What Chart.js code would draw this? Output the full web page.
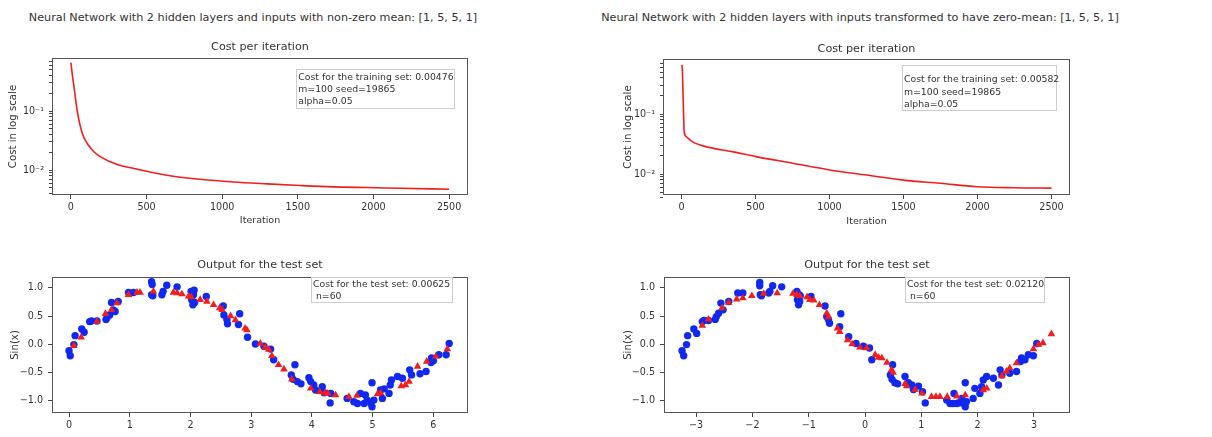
<!DOCTYPE html>
<html><head><meta charset="utf-8">
<script src="https://cdn.jsdelivr.net/npm/chart.js@4.4.0/dist/chart.umd.min.js"></script>
<style>
html,body{margin:0;padding:0;background:#fff;width:1212px;height:437px;overflow:hidden;font-family:"DejaVu Sans",sans-serif;color:#333}
.panel{position:absolute}
.panel canvas{display:block}
.suptitle{position:absolute;font-size:11.2px;line-height:13px;white-space:nowrap;transform:translate(-50%,-50%)}
.note{position:absolute;border:1px solid #ccc;background:rgba(255,255,255,0.85);font-size:9.3px;white-space:pre;box-sizing:border-box;z-index:2}
</style></head><body>
<div class="suptitle" style="left:253px;top:17px">Neural Network with 2 hidden layers and inputs with non-zero mean: [1, 5, 5, 1]</div>
<div class="suptitle" style="left:860px;top:17px">Neural Network with 2 hidden layers with inputs transformed to have zero-mean: [1, 5, 5, 1]</div>
<div class="panel" id="pA"></div>
<div class="panel" id="pB"></div>
<div class="panel" id="pC"></div>
<div class="panel" id="pD"></div>
<div class="note" style="left:296px;top:69px;width:159px;height:40px;line-height:12.3px;padding:0.6px 0 0 1.3px">Cost for the training set: 0.00476
m=100 seed=19865
alpha=0.05</div>
<div class="note" style="left:902px;top:65px;width:155px;height:46px;line-height:12.5px;padding:7.2px 0 0 1px">Cost for the training set: 0.00582
m=100 seed=19865
alpha=0.05</div>
<div class="note" style="left:311px;top:277px;width:142px;height:26px;line-height:11.3px;padding:0.3px 0 0 1px">Cost for the test set: 0.00625
 n=60</div>
<div class="note" style="left:905px;top:277px;width:140px;height:26px;line-height:11.7px;padding:0.4px 0 0 1px">Cost for the test set: 0.02120
 n=60</div>
<script>
// ---- data ----
const iterLeft  = [0, 10, 20, 42, 75, 108, 152, 196, 306, 416, 635, 855, 1075, 1295, 1515, 1735, 1955, 2175, 2500];
const costLeft  = [0.66, 0.40, 0.26, 0.10, 0.042, 0.0283, 0.0205, 0.0168, 0.0125, 0.0107, 0.0082, 0.0070, 0.0063, 0.00586, 0.0055, 0.00522, 0.00508, 0.00495, 0.00476];
const iterRight = [0, 5, 9, 14, 18, 32, 72, 163, 344, 503, 752, 1000, 1250, 1499, 1748, 1997, 2246, 2500];
const costRight = [0.656, 0.60, 0.29, 0.10, 0.051, 0.042, 0.0346, 0.0286, 0.0236, 0.0195, 0.0151, 0.0117, 0.0096, 0.0079, 0.0070, 0.00615, 0.0059, 0.00582];

const dataXLeft = [0.00,0.02,0.08,0.10,0.21,0.25,0.34,0.37,0.46,0.61,0.63,0.67,0.70,0.73,0.76,0.81,0.98,1.06,1.36,1.37,1.36,1.38,1.53,1.55,1.61,1.78,2.01,2.02,2.04,2.05,2.06,2.07,2.26,2.54,2.55,2.60,2.61,2.79,2.81,2.94,3.07,3.21,3.32,3.37,3.66,3.69,3.72,3.76,3.82,3.95,3.98,4.03,4.06,4.17,4.20,4.30,4.31,4.58,4.69,4.75,4.80,4.86,4.88,4.91,4.97,4.99,4.99,5.02,5.13,5.16,5.19,5.27,5.29,5.31,5.41,5.49,5.61,5.64,5.78,5.88,5.96,5.97,6.00,6.09,6.21,6.26];
const dataYLeft = [-0.12,-0.21,-0.01,0.15,0.27,0.21,0.40,0.41,0.41,0.44,0.48,0.52,0.74,0.61,0.58,0.76,0.92,0.92,1.11,1.06,0.88,0.86,0.88,0.94,1.05,1.02,0.94,0.79,0.70,0.88,0.96,0.74,0.85,0.68,0.52,0.44,0.36,0.35,0.54,0.12,0.00,-0.04,-0.09,-0.28,-0.55,-0.63,-0.37,-0.67,-0.71,-0.60,-0.67,-0.73,-0.82,-0.76,-0.87,-1.05,-0.88,-0.97,-1.03,-1.06,-0.88,-1.06,-0.91,-1.00,-1.06,-0.69,-1.12,-1.00,-0.82,-0.97,-0.80,-0.88,-0.73,-0.64,-0.58,-0.61,-0.46,-0.55,-0.53,-0.49,-0.33,-0.25,-0.30,-0.19,-0.19,0.01];
const predXLeft = [0.08,0.20,0.46,0.60,0.70,0.79,0.98,1.12,1.17,1.39,1.72,1.78,1.86,1.97,2.01,2.16,2.27,2.38,2.48,2.52,2.66,2.74,2.90,2.93,3.15,3.23,3.29,3.34,3.45,3.54,3.67,3.98,4.13,4.21,4.26,4.39,4.61,4.74,5.08,5.13,5.47,5.54,5.60,5.74,5.89,6.04,6.23];
const predYLeft = [-0.03,0.12,0.40,0.54,0.61,0.73,0.88,0.92,0.92,0.94,0.92,0.91,0.89,0.85,0.84,0.79,0.76,0.70,0.64,0.61,0.50,0.43,0.28,0.25,0.01,-0.06,-0.10,-0.21,-0.37,-0.45,-0.63,-0.79,-0.85,-0.88,-0.88,-0.91,-0.94,-0.92,-0.89,-0.87,-0.75,-0.73,-0.67,-0.40,-0.31,-0.22,-0.09];

const dataXRight = [-3.25,-3.22,-3.17,-3.15,-3.04,-2.99,-2.89,-2.86,-2.78,-2.66,-2.64,-2.60,-2.56,-2.52,-2.42,-2.26,-2.17,-1.87,-1.87,-1.86,-1.84,-1.71,-1.69,-1.64,-1.48,-1.21,-1.20,-1.18,-1.17,-1.16,-1.15,-0.96,-0.71,-0.68,-0.65,-0.63,-0.45,-0.43,-0.29,-0.16,-0.03,0.08,0.12,0.45,0.48,0.49,0.53,0.58,0.71,0.77,0.83,0.86,0.95,1.02,1.07,1.45,1.51,1.56,1.58,1.63,1.66,1.72,1.75,1.78,1.78,1.80,1.92,1.95,2.04,2.07,2.10,2.16,2.28,2.37,2.40,2.43,2.57,2.69,2.76,2.78,2.84,2.90,2.99,3.05];
const dataYRight = [-0.12,-0.21,-0.01,0.15,0.27,0.19,0.40,0.42,0.42,0.44,0.49,0.55,0.73,0.61,0.76,0.91,0.91,1.10,1.04,0.88,0.86,0.91,0.94,1.04,1.02,0.94,0.79,0.70,0.88,0.76,0.86,0.85,0.68,0.49,0.44,0.37,0.31,0.54,0.13,0.01,-0.04,-0.07,-0.28,-0.55,-0.63,-0.37,-0.69,-0.71,-0.58,-0.69,-0.73,-0.81,-0.75,-0.85,-1.05,-1.00,-1.06,-1.06,-0.88,-1.06,-1.05,-0.97,-1.06,-0.69,-1.12,-1.03,-0.97,-0.79,-0.88,-0.76,-0.64,-0.58,-0.61,-0.73,-0.46,-0.55,-0.52,-0.49,-0.31,-0.25,-0.28,-0.19,-0.21,0.01];
const predXRight = [-2.89,-2.78,-2.54,-2.42,-2.28,-2.17,-2.01,-1.80,-1.56,-1.28,-1.21,-1.16,-1.03,-0.98,-0.91,-0.81,-0.68,-0.65,-0.49,-0.45,-0.31,-0.23,-0.09,0.03,0.18,0.24,0.30,0.39,0.47,0.50,0.71,0.74,0.89,1.01,1.18,1.26,1.33,1.46,1.63,1.78,2.10,2.16,2.43,2.51,2.57,2.69,2.99,3.08,3.16,3.31];
const predYRight = [0.33,0.44,0.64,0.74,0.80,0.82,0.86,0.90,0.91,0.90,0.88,0.86,0.84,0.79,0.78,0.70,0.55,0.48,0.28,0.22,0.07,0.00,-0.06,-0.07,-0.19,-0.24,-0.25,-0.33,-0.46,-0.51,-0.71,-0.75,-0.81,-0.88,-0.94,-0.94,-0.94,-0.94,-0.93,-0.91,-0.82,-0.79,-0.57,-0.49,-0.43,-0.34,-0.09,-0.01,0.02,0.18];

// tick values
const iterTicks = [0, 500, 1000, 1500, 2000, 2500];
const logTicks = [0.004,0.005,0.006,0.007,0.008,0.009,0.01,0.02,0.03,0.04,0.05,0.06,0.07,0.08,0.09,0.1,0.2,0.3,0.4,0.5,0.6,0.7];
const sinTicks = [-1, -0.5, 0, 0.5, 1];
const xTicksLeft = [0, 1, 2, 3, 4, 5, 6];
const xTicksRight = [-3, -2, -1, 0, 1, 2, 3];

// ---- drawing ----
const FONT = '"DejaVu Sans", sans-serif';
const TXT = '#333';
const TICK = 9.6, XLAB = 9.5, YLAB = 10.2, TIT = 11.2;
const RED = 'rgb(240,30,30)', BLUE = 'rgb(16,40,240)';
const pts = (xs, ys) => xs.map((x, i) => ({x: x, y: ys[i]}));
const minus = v => (v < 0 ? '\u2212' : '') + Math.abs(v);
const sup = {'-':'\u207B','0':'\u2070','1':'\u00B9','2':'\u00B2','3':'\u00B3'};
const logLabel = v => { const l = Math.log10(v), r = Math.round(l); return Math.abs(l - r) < 1e-6 ? '10' + String(r).split('').map(c => sup[c]).join('') : ''; };

const framePlugin = { id: 'frame', afterDraw(chart) {
  const a = chart.chartArea, c = chart.ctx; c.save(); c.strokeStyle = '#555'; c.lineWidth = 1;
  c.strokeRect(a.left + 0.5, a.top + 0.5, a.right - a.left - 1, a.bottom - a.top - 1); c.restore(); } };

function makePanel(id, L, type, datasets, xs, ys, title, xTitle, yTitle) {
  const lhY = YLAB * 1.2, lhX = XLAB * 1.2, lhT = TIT * 1.2, rightPad = 14;
  const left = Math.round(L.yTitleX - lhY / 2);
  const axisW = L.cl - left;
  const top = Math.round(L.titleY - lhT / 2);
  const titlePadB = L.ct - top - lhT;
  const axisH = xTitle ? Math.round(L.xTitleY + lhX / 2 - L.cb) : 24;
  const div = document.getElementById(id);
  div.style.left = left + 'px'; div.style.top = top + 'px';
  div.style.width = (axisW + (L.cr - L.cl) + rightPad) + 'px';
  div.style.height = (L.cb - top + axisH) + 'px';
  const cv = document.createElement('canvas'); div.appendChild(cv);
  const tickFont = {family: FONT, size: TICK};
  new Chart(cv, {
    type: type,
    data: {datasets: datasets},
    plugins: [framePlugin],
    options: {
      responsive: true, maintainAspectRatio: false, animation: false, devicePixelRatio: 1,
      layout: {padding: {left: 0, right: rightPad, top: 0, bottom: 0}},
      plugins: {
        legend: {display: false}, tooltip: {enabled: false},
        title: {display: true, text: title, fullSize: false, color: TXT,
                font: {family: FONT, size: TIT, weight: 'normal'}, padding: {top: 0, bottom: titlePadB}}
      },
      scales: {
        x: Object.assign({
          type: 'linear', position: 'bottom',
          afterBuildTicks: s => { s.ticks = xs.ticks.map(v => ({value: v})); },
          afterFit: s => { s.height = axisH; },
          ticks: {font: tickFont, color: TXT, padding: 3, autoSkip: false, maxRotation: 0, callback: xs.fmt},
          grid: {drawOnChartArea: false, drawTicks: true, tickLength: 4, color: '#444'},
          border: {display: false},
          title: {display: !!xTitle, text: xTitle || '', font: {family: FONT, size: XLAB}, color: TXT, padding: 0}
        }, xs.range),
        y: Object.assign({
          type: ys.type, position: 'left',
          afterBuildTicks: s => { s.ticks = ys.ticks.map(v => ({value: v})); },
          afterFit: s => { s.width = axisW; },
          ticks: {font: tickFont, color: TXT, padding: 5, autoSkip: false, callback: ys.fmt},
          grid: {drawOnChartArea: false, drawTicks: true, tickLength: ys.type === 'logarithmic' ? 3 : 4, color: '#444'},
          border: {display: false},
          title: {display: true, text: yTitle, font: {family: FONT, size: YLAB}, color: TXT, padding: 0}
        }, ys.range)
      }
    }
  });
}

const lineDs = (xs, ys) => ({type: 'line', data: pts(xs, ys), borderColor: RED, borderWidth: 1.6,
  pointRadius: 0, fill: false, cubicInterpolationMode: 'monotone'});
const scatterSets = (dx, dy, px, py) => [
  {data: pts(px, py), pointStyle: 'triangle', pointRadius: 4.4, backgroundColor: RED, borderWidth: 0, order: 0},
  {data: pts(dx, dy), pointStyle: 'circle', pointRadius: 3.7, backgroundColor: BLUE, borderWidth: 0, order: 1}
];

makePanel('pA', {cl: 52, ct: 58, cr: 468, cb: 195, yTitleX: 13, titleY: 46.5, xTitleY: 220.7}, 'line',
  [lineDs(iterLeft, costLeft)],
  {ticks: iterTicks, fmt: v => String(v), range: {min: -125, max: 2625}},
  {type: 'logarithmic', ticks: logTicks, fmt: logLabel, range: {min: 0.0038, max: 0.79}},
  'Cost per iteration', 'Iteration', 'Cost in log scale');

makePanel('pB', {cl: 663, ct: 59, cr: 1070, cb: 195, yTitleX: 628.3, titleY: 48.3, xTitleY: 221.7}, 'line',
  [lineDs(iterRight, costRight)],
  {ticks: iterTicks, fmt: v => String(v), range: {min: -125, max: 2625}},
  {type: 'logarithmic', ticks: logTicks, fmt: logLabel, range: {min: 0.00447, max: 0.826}},
  'Cost per iteration', 'Iteration', 'Cost in log scale');

makePanel('pC', {cl: 52, ct: 277, cr: 468, cb: 413, yTitleX: 15, titleY: 265}, 'scatter',
  scatterSets(dataXLeft, dataYLeft, predXLeft, predYLeft),
  {ticks: xTicksLeft, fmt: minus, range: {min: -0.28, max: 6.57}},
  {type: 'linear', ticks: sinTicks, fmt: v => (v < 0 ? '\u2212' : '') + Math.abs(v).toFixed(1), range: {min: -1.23, max: 1.196}},
  'Output for the test set', null, 'Sin(x)');

makePanel('pD', {cl: 664, ct: 277, cr: 1070, cb: 413, yTitleX: 628.3, titleY: 265}, 'scatter',
  scatterSets(dataXRight, dataYRight, predXRight, predYRight),
  {ticks: xTicksRight, fmt: minus, range: {min: -3.57, max: 3.64}},
  {type: 'linear', ticks: sinTicks, fmt: v => (v < 0 ? '\u2212' : '') + Math.abs(v).toFixed(1), range: {min: -1.23, max: 1.196}},
  'Output for the test set', null, 'Sin(x)');
</script>
</body></html>
